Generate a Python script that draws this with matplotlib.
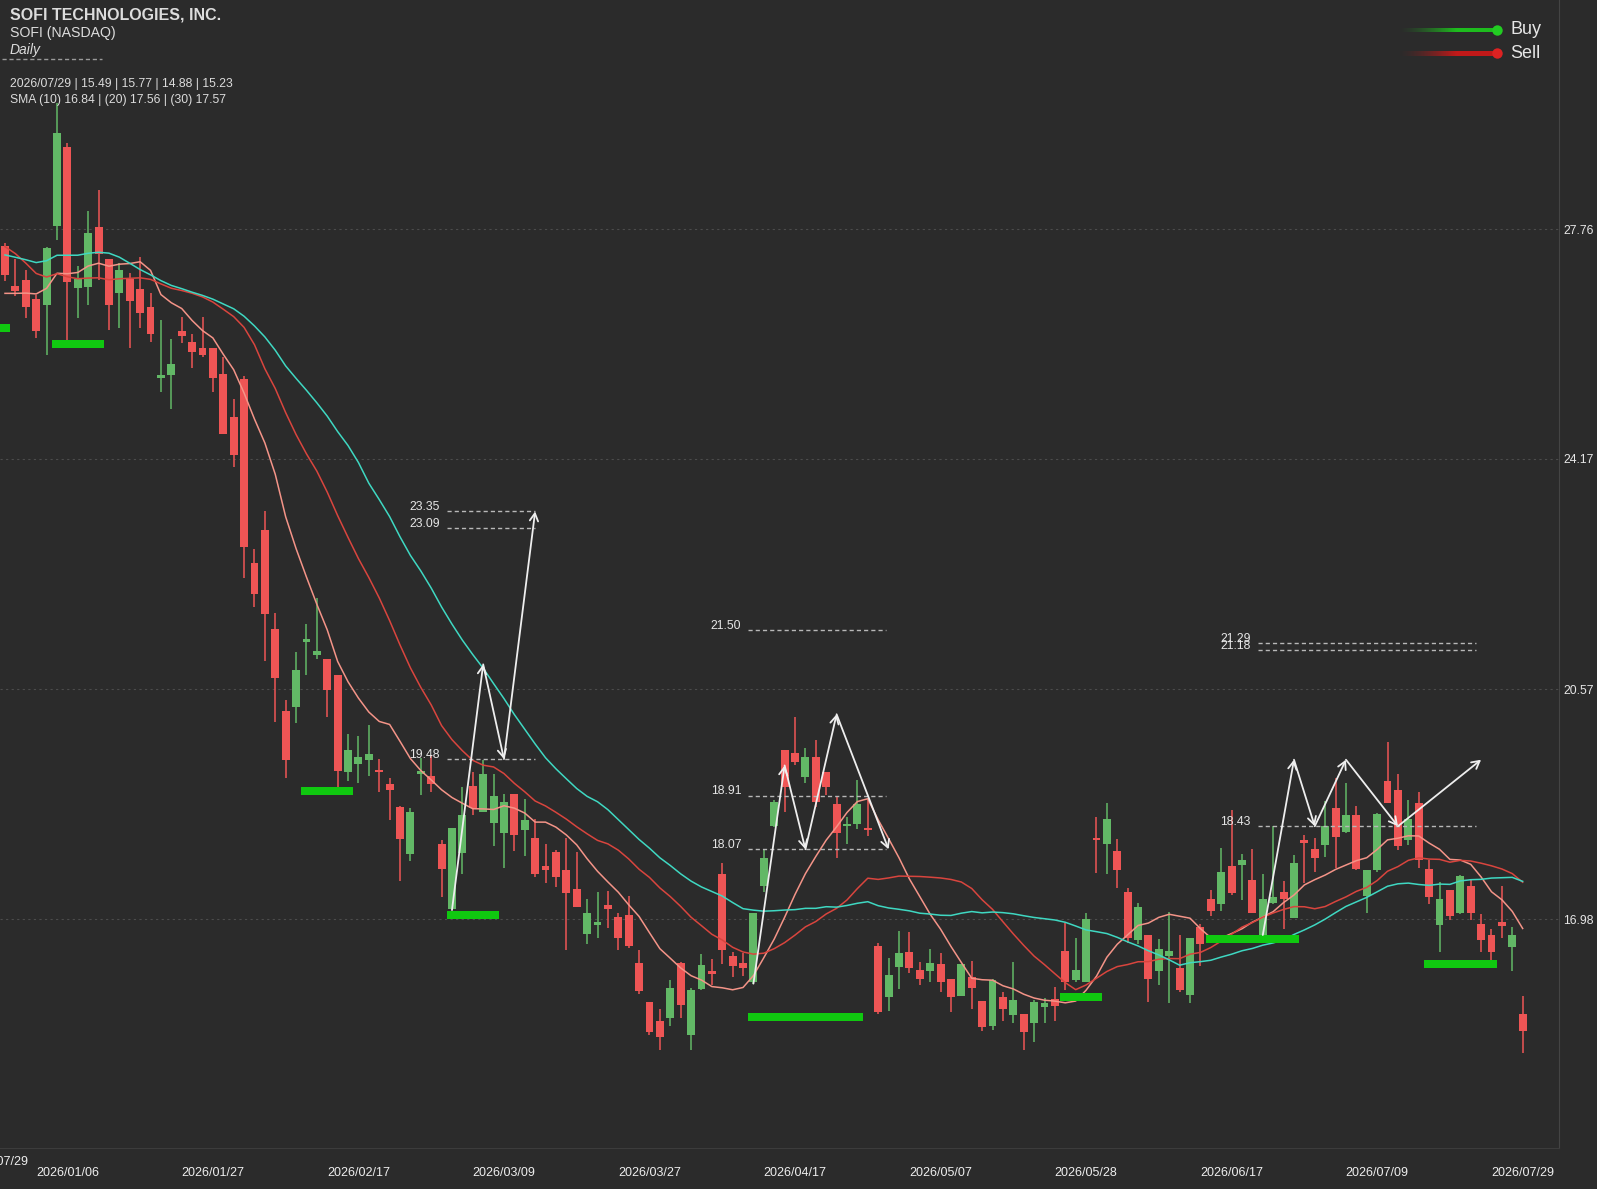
import numpy as np
import pandas as pd
import matplotlib
matplotlib.use("Agg")
import matplotlib.pyplot as plt
from matplotlib.lines import Line2D

# ---------------- data ----------------
opens = [27.50, 26.87, 26.96, 26.67, 26.58, 27.81, 29.05, 26.85, 26.86, 27.80,
         27.29, 26.76, 26.99, 26.82, 26.55, 25.43, 25.49, 26.17, 26.00, 25.90,
         25.90, 25.50, 24.83, 25.42, 22.54, 23.06, 21.51, 20.23, 20.30, 21.31,
         21.11, 21.05, 20.79, 19.28, 19.40, 19.47, 19.31, 19.09, 18.73, 17.99,
         19.25, 19.22, 18.16, 17.14, 18.01, 19.06, 18.65, 18.48, 18.33, 18.93,
         18.37, 18.24, 17.81, 18.02, 17.75, 17.45, 16.75, 16.88, 17.20, 17.01,
         17.05, 16.29, 15.69, 15.38, 15.43, 16.29, 15.17, 15.88, 16.17, 17.68,
         16.40, 16.30, 16.00, 17.50, 18.44, 19.62, 19.58, 19.20, 19.51, 19.28,
         18.78, 18.44, 18.46, 18.40, 16.56, 15.76, 16.23, 16.46, 16.18, 16.17,
         16.27, 16.04, 15.77, 16.08, 15.70, 15.31, 15.76, 15.48, 15.49, 15.36,
         15.61, 15.73, 16.48, 16.02, 16.00, 18.24, 18.15, 18.05, 17.40, 16.65,
         16.73, 16.17, 16.40, 16.22, 15.79, 16.86, 17.30, 17.21, 17.81, 17.82,
         17.59, 16.73, 17.23, 17.40, 17.00, 18.21, 18.07, 18.14, 18.71, 18.34,
         18.60, 17.34, 17.75, 19.14, 19.00, 18.22, 18.80, 17.76, 16.88, 17.43,
         17.07, 17.50, 16.90, 16.73, 16.94, 16.55, 15.49]
highs = [27.55, 27.30, 27.13, 26.74, 27.49, 29.73, 29.11, 27.18, 28.05, 28.37,
         27.30, 27.23, 27.07, 27.33, 26.77, 26.34, 26.04, 26.39, 26.13, 26.39,
         25.90, 25.77, 25.11, 25.46, 22.77, 23.36, 21.76, 20.40, 21.16, 21.59,
         21.99, 21.05, 20.79, 19.87, 19.84, 20.01, 19.48, 19.19, 18.75, 18.71,
         19.49, 19.54, 18.21, 18.41, 19.04, 19.27, 19.47, 19.25, 18.94, 18.93,
         18.85, 18.54, 18.15, 18.06, 18.24, 18.02, 17.29, 17.41, 17.42, 17.07,
         17.34, 16.49, 15.69, 15.57, 16.03, 16.31, 15.90, 16.43, 16.35, 17.86,
         16.47, 16.45, 17.07, 18.08, 18.84, 19.62, 20.14, 19.65, 19.78, 19.28,
         18.89, 18.57, 19.16, 18.84, 16.60, 16.37, 16.80, 16.77, 16.31, 16.51,
         16.45, 16.05, 16.27, 16.33, 15.70, 16.04, 15.84, 16.31, 15.49, 15.71,
         15.74, 15.92, 16.91, 16.69, 17.08, 18.58, 18.80, 18.23, 17.47, 17.23,
         16.73, 16.66, 17.09, 16.73, 16.68, 16.90, 17.43, 18.09, 18.69, 18.00,
         18.07, 17.68, 18.43, 17.57, 17.98, 18.30, 18.24, 18.83, 19.19, 19.11,
         18.75, 17.75, 18.64, 19.74, 19.25, 18.84, 18.97, 17.90, 17.56, 17.43,
         17.67, 17.59, 17.06, 16.82, 17.50, 16.85, 15.77]
lows = [26.95, 26.72, 26.37, 26.06, 25.80, 27.59, 26.03, 26.37, 26.58, 26.97,
        26.19, 26.21, 25.90, 26.21, 26.00, 25.21, 24.95, 25.99, 25.60, 25.77,
        25.21, 24.56, 24.05, 22.31, 21.86, 21.02, 20.06, 19.19, 20.04, 20.79,
        21.05, 20.14, 19.00, 19.13, 19.11, 19.22, 18.97, 18.52, 17.58, 17.89,
        18.92, 18.97, 17.32, 17.12, 17.69, 18.61, 18.65, 18.12, 17.77, 18.05,
        17.96, 17.63, 17.54, 17.48, 16.49, 17.16, 16.59, 16.68, 16.84, 16.50,
        16.52, 15.81, 15.17, 14.93, 15.31, 15.44, 14.94, 15.87, 15.95, 16.28,
        16.07, 16.09, 15.97, 17.41, 18.42, 18.66, 19.39, 19.10, 18.73, 18.92,
        17.93, 18.16, 18.38, 18.27, 15.50, 15.55, 15.88, 16.14, 15.95, 16.00,
        15.84, 15.53, 15.77, 15.57, 15.23, 15.24, 15.39, 15.36, 14.94, 15.05,
        15.36, 15.38, 15.87, 16.00, 15.99, 17.70, 17.69, 17.46, 16.60, 16.59,
        15.69, 15.95, 15.67, 15.84, 15.66, 16.24, 17.02, 17.11, 17.35, 17.28,
        17.07, 16.73, 17.22, 16.83, 16.99, 17.54, 17.72, 17.95, 17.77, 18.32,
        17.74, 17.08, 17.72, 18.79, 18.06, 18.14, 17.77, 17.22, 16.47, 16.97,
        17.06, 16.96, 16.47, 16.34, 16.69, 16.17, 14.88]
closes = [27.05, 26.80, 26.54, 26.17, 27.47, 29.26, 26.93, 26.99, 27.71, 27.38,
          26.58, 27.12, 26.64, 26.45, 26.12, 25.48, 25.65, 26.09, 25.84, 25.80,
          25.43, 24.56, 24.23, 22.80, 22.06, 21.74, 20.75, 19.46, 20.87, 21.35,
          21.17, 20.56, 19.30, 19.62, 19.51, 19.56, 19.28, 18.99, 18.23, 18.66,
          19.30, 19.09, 17.76, 18.41, 18.61, 18.71, 19.25, 18.90, 18.81, 18.29,
          18.53, 17.68, 17.75, 17.63, 17.39, 17.16, 17.08, 16.94, 17.14, 16.69,
          16.56, 15.86, 15.21, 15.13, 15.90, 15.64, 15.87, 16.26, 16.12, 16.50,
          16.25, 16.22, 17.07, 17.93, 18.81, 19.04, 19.44, 19.51, 18.81, 19.05,
          18.33, 18.46, 18.78, 18.37, 15.52, 16.10, 16.45, 16.21, 16.04, 16.29,
          16.00, 15.76, 16.27, 15.90, 15.29, 16.03, 15.58, 15.71, 15.22, 15.69,
          15.66, 15.62, 16.00, 16.18, 16.98, 18.22, 18.55, 17.74, 16.68, 17.16,
          16.04, 16.51, 16.48, 15.87, 16.68, 16.59, 17.11, 17.71, 17.38, 17.91,
          17.08, 17.29, 17.33, 17.29, 17.86, 18.17, 17.93, 18.43, 18.26, 18.60,
          17.76, 17.75, 18.62, 18.79, 18.12, 18.55, 17.90, 17.32, 17.29, 17.02,
          17.66, 17.08, 16.65, 16.47, 16.87, 16.73, 15.23]
# closes before the visible window (needed for the moving averages at the left edge)
prior_closes = [27.9, 27.7, 27.5, 26.6, 26.7, 26.9, 27.0, 26.8, 26.9, 27.0,
                29.0, 29.5, 29.4, 28.6, 28.2, 27.9, 27.6, 27.5, 27.3, 27.2,
                26.8, 26.5, 26.3, 26.6, 26.9, 27.0, 26.8, 26.7, 26.94]
sma_periods = [10, 20, 30]

date_idx = [6, 20, 34, 48, 62, 76, 90, 104, 118, 132, 146]
date_labels = ["2026/01/06", "2026/01/27", "2026/02/17", "2026/03/09", "2026/03/27",
               "2026/04/17", "2026/05/07", "2026/05/28", "2026/06/17", "2026/07/09",
               "2026/07/29"]
price_ticks = [16.98, 20.57, 24.17, 27.76]

# buy signal bars: start index, end index, price
sig_start = [-0.6, 4.5, 28.5, 42.5, 71.5, 101.5, 115.5, 136.5]
sig_end = [0.5, 9.5, 33.5, 47.5, 82.5, 105.5, 124.5, 143.5]
sig_price = [26.22, 25.97, 18.98, 17.04, 15.45, 15.76, 16.67, 16.28]

# projection patterns
pat_x = [[43, 46, 48, 51],
         [72, 75, 77, 80, 85],
         [121, 124, 126, 129, 134, 142]]
pat_y = [[17.12, 20.96, 19.48, 23.35],
         [15.97, 19.38, 18.07, 20.18, 18.07],
         [16.73, 19.47, 18.43, 19.47, 18.43, 19.47]]
pat_levels = [[23.35, 23.09, 19.48],
              [21.50, 18.91, 18.07],
              [21.29, 21.18, 18.43]]
pat_span = [[42.5, 51.0], [71.5, 84.8], [120.5, 141.5]]

ohlc_text = "2026/07/29 | 15.49 | 15.77 | 14.88 | 15.23"
sma_text = "SMA (10) 16.84 | (20) 17.56 | (30) 17.57"

# ---------------- styling ----------------
BG = "#2b2b2b"
UP = "#62b866"
DOWN = "#ee5555"
SIG = "#10c810"
TXT = "#dcdcdc"
FONT = "Liberation Sans"
sma_colors = ["#f49488", "#d9453e", "#3fd8c2"]

W, H = 1597, 1189
fig = plt.figure(figsize=(W / 100, H / 100), dpi=100, facecolor=BG)
ax = fig.add_axes([0, 1 - 1148 / H, 1559 / W, 1148 / H], facecolor=BG)

def fx(px):
    return px / W

def fy(py):
    return 1 - py / H

n = len(closes)
x = np.arange(n)
o = np.array(opens); c = np.array(closes); hi = np.array(highs); lo = np.array(lows)
up = c >= o
cols = np.where(up, UP, DOWN)

# wicks and bodies
ax.vlines(x, lo, hi, colors=cols, lw=1.1, zorder=2)
body_bottom = np.minimum(o, c)
body_h = np.maximum(np.abs(c - o), 0.03)
ax.bar(x, body_h, bottom=body_bottom, width=0.76, color=cols, linewidth=0, zorder=3)

# moving averages
allc = pd.Series(prior_closes + closes)
for per, col in zip(sma_periods, sma_colors):
    sma = allc.rolling(per).mean().to_numpy()[-n:]
    ax.plot(x, sma, color=col, lw=1.1, zorder=4)

# signal bars
for s, e, p in zip(sig_start, sig_end, sig_price):
    ax.barh(p, e - s, left=s, height=0.12, color=SIG, linewidth=0, zorder=5)

# projection patterns
for xs, ys, levels, span in zip(pat_x, pat_y, pat_levels, pat_span):
    for lv in levels:
        ax.plot(span, [lv, lv], color="#b8b8b8", lw=1.0, linestyle=(0, (3, 2.2)), zorder=5)
        ax.annotate(f"{lv:.2f}", xy=(span[0], lv), xytext=(-5, 3), textcoords="offset points",
                    ha="right", va="center", fontsize=8.8, color="#e6e6e6", family=FONT, zorder=6)
    for i in range(1, len(xs)):
        ax.annotate("", xy=(xs[i], ys[i]), xytext=(xs[i - 1], ys[i - 1]),
                    arrowprops=dict(arrowstyle="->,head_length=0.55,head_width=0.3",
                                    color="#eeeeee", lw=1.3, shrinkA=0, shrinkB=0),
                    zorder=7)

# axes
ax.set_xlim(-5 / 10.395, (1559 - 5) / 10.395)
ax.set_ylim(13.401, 31.344)
for side in ["top", "left"]:
    ax.spines[side].set_visible(False)
ax.spines["right"].set_color("#444444")
ax.spines["bottom"].set_color("#3c3c3c")
ax.yaxis.tick_right()
ax.set_yticks(price_ticks)
ax.set_yticklabels([f"{t:.2f}" for t in price_ticks], family=FONT)
ax.tick_params(axis="y", length=0, pad=3, labelsize=8.8, labelcolor="#e6e6e6")
ax.set_xticks(date_idx)
ax.set_xticklabels(date_labels, family=FONT)
ax.tick_params(axis="x", length=0, pad=14, labelsize=9, labelcolor="#eeeeee")
ax.grid(axis="y", color="#4c4c4c", linestyle=(0, (2, 3)), lw=0.8)
ax.set_axisbelow(True)

fig.text(fx(28.5), fy(1162), "2026/07/29", ha="right", va="center",
         fontsize=9, color="#eeeeee", family=FONT)

# header texts
fig.text(fx(10), fy(20), "SOFI TECHNOLOGIES, INC.", fontsize=11.5, fontweight="bold",
         color=TXT, va="baseline", family=FONT)
fig.text(fx(10), fy(37.3), "SOFI (NASDAQ)", fontsize=10.2, color=TXT, va="baseline", family=FONT)
fig.text(fx(10), fy(54), "Daily", fontsize=10, style="italic", color=TXT, va="baseline", family=FONT)
fig.add_artist(Line2D([fx(2), fx(102)], [fy(59.3), fy(59.3)], transform=fig.transFigure,
                      color="#9a9a9a", lw=1.0, linestyle=(0, (3, 2))))
fig.text(fx(10), fy(87.3), ohlc_text, fontsize=8.7, color=TXT, va="baseline", family=FONT)
fig.text(fx(10), fy(103.3), sma_text, fontsize=8.7, color=TXT, va="baseline", family=FONT)

# legend
leg_items = [("Buy", (0.12, 0.74, 0.12), "#22cc22", 30), ("Sell", (0.76, 0.10, 0.10), "#dd2222", 53.3)]
for label, rgb, dot, yy in leg_items:
    x0, x1, hh = 1398, 1497, 4.5
    axg = fig.add_axes([fx(x0), fy(yy + hh / 2), (x1 - x0) / W, hh / H])
    axg.axis("off")
    t = np.linspace(0, 1, 300)
    alpha = np.clip(t * 1.7, 0, 1) ** 1.5
    img = np.zeros((1, 300, 4))
    img[..., 0], img[..., 1], img[..., 2] = rgb
    img[0, :, 3] = alpha
    axg.imshow(img, aspect="auto", extent=[0, 1, 0, 1], interpolation="bilinear")
    fig.add_artist(Line2D([fx(1497)], [fy(yy)], marker="o", markersize=7.5, color=dot,
                          markeredgewidth=0, transform=fig.transFigure, zorder=5))
    fig.text(fx(1510), fy(yy), label, fontsize=13, color="#e6e6e6", va="center", family=FONT)

fig.savefig("out.png", dpi=100, facecolor=BG)
